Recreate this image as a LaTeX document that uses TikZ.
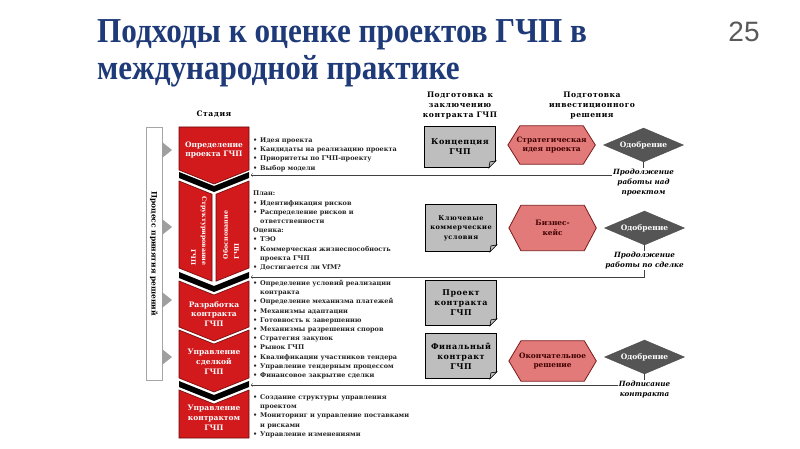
\documentclass[tikz,border=0pt]{standalone}
\usepackage{fontspec}
\setmainfont{DejaVu Serif}
\newfontfamily\spacedfont{DejaVu Serif}[LetterSpace=7]
\newfontfamily\titlefont{Liberation Serif}
\newfontfamily\numfont{Liberation Sans}
\usepackage{tikz}
\usetikzlibrary{shapes.geometric, arrows, positioning, calc, backgrounds}

\definecolor{titleblue}{HTML}{1F3A78}
\definecolor{stagered}{HTML}{D2191C}
\definecolor{stageline}{HTML}{6A0A0A}
\definecolor{docgray}{HTML}{BEBEBE}
\definecolor{hexpink}{HTML}{E27A7A}
\definecolor{hexline}{HTML}{7A1A1A}
\definecolor{diagray}{HTML}{555555}

\newcommand{\itm}{\makebox[7pt][l]{•}}
\newcommand{\cnt}{\hspace*{7pt}}

\tikzstyle{stagefill} = [fill=stagered, draw=stageline, line width=0.6pt]
\tikzstyle{band} = [fill=black]
\tikzstyle{stagetext} = [text=white, font=\bfseries\fontsize{7.5}{9.8}\selectfont, align=center]
\tikzstyle{coltext} = [text=white, font=\bfseries\fontsize{6.3}{11}\selectfont]
\tikzstyle{bullets} = [anchor=north west, align=left, inner sep=0pt, text=black!85, font=\bfseries\fontsize{6.5}{9.2}\selectfont]
\tikzstyle{header} = [align=center, font=\spacedfont\bfseries\fontsize{7.6}{10}\selectfont]
\tikzstyle{document} = [rectangle, minimum width=71pt, minimum height=43pt, draw=black, line width=0.8pt, fill=docgray, align=center, font=\spacedfont\bfseries\fontsize{8}{10}\selectfont]
\tikzstyle{hexa} = [rectangle, minimum width=87pt, minimum height=38pt, inner sep=0pt, text=black!75!red, align=center, font=\bfseries\fontsize{7.4}{9.5}\selectfont]
\tikzstyle{hexfill} = [fill=hexpink, draw=hexline, line width=0.8pt]
\tikzstyle{approve} = [diamond, aspect=2.3, minimum width=80pt, minimum height=34pt, inner sep=0pt, fill=diagray, draw=black!70, text=white, font=\bfseries\fontsize{7.5}{9}\selectfont]
\tikzstyle{note} = [align=center, fill=white, inner sep=1pt, font=\bfseries\itshape\fontsize{7.2}{10}\selectfont]
\tikzstyle{procbar} = [rectangle, draw=gray!70, fill=white, rotate=-90, minimum width=253pt, minimum height=16pt, inner sep=0pt, font=\bfseries\fontsize{7.5}{8}\selectfont]
\tikzstyle{arrow} = [thin, draw=black!75, ->, >=to]
\tikzstyle{tri} = [fill=gray!75]

\begin{document}
\begin{tikzpicture}[x=1pt, y=-1pt, node distance=8pt]
    \useasboundingbox (0,0) rectangle (800,449);
    \begin{scope}[on background layer]
        \fill[white] (0,0) rectangle (800,449);
    \end{scope}

    % Title
    \node (title) [anchor=north west, align=left, inner sep=0pt, xscale=0.89, text=titleblue, font=\titlefont\bfseries\fontsize{35}{37}\selectfont] at (97,19) {Подходы к оценке проектов ГЧП в\\международной практике};
    \node (page) [text=black!65, font=\numfont\fontsize{28}{30}\selectfont] at (744,32) {25};

    % Process bar
    \node (bar) [procbar] at (154,253.5) {Процесс принятия решений};
    \foreach \y in {150,227,300,357}
        \fill[tri] (162,\y-8) -- (172,\y) -- (162,\y+8) -- cycle;

    % Stages
    \node (stagehead) [header] at (214,114) {Стадия};
    \path[stagefill] (179,127) -- (249,127) -- (249,170) -- (214,184) -- (179,170) -- cycle;
    \fill[band] (179,172) -- (214,186) -- (249,172) -- (249,178) -- (214,192) -- (179,178) -- cycle;
    \path[stagefill] (179,181) -- (212,194.2) -- (212,281.2) -- (179,268) -- cycle;
    \path[stagefill] (216,194.2) -- (249,181) -- (249,268) -- (216,281.2) -- cycle;
    \fill[band] (179,272) -- (214,286) -- (249,272) -- (249,278) -- (214,292) -- (179,278) -- cycle;
    \path[stagefill] (179,281) -- (214,295) -- (249,281) -- (249,327) -- (214,341) -- (179,327) -- cycle;
    \path[stagefill] (179,330) -- (214,344) -- (249,330) -- (249,378) -- (214,392) -- (179,378) -- cycle;
    \fill[band] (179,381) -- (214,395) -- (249,381) -- (249,387) -- (214,401) -- (179,387) -- cycle;
    \path[stagefill] (179,390) -- (214,404) -- (249,390) -- (249,438) -- (179,438) -- cycle;

    \node (st1) [stagetext] at (214,150) {Определение\\проекта ГЧП};
    \node (st2a) [coltext, rotate=-90, align=right] at (199,231) {Структурирование\\ГЧП};
    \node (st2b) [coltext, rotate=90, align=left] at (231,235) {Обоснование\\ГЧП};
    \node (st3) [stagetext] at (214,314) {Разработка\\контракта\\ГЧП};
    \node (st4) [stagetext] at (214,362) {Управление\\сделкой\\ГЧП};
    \node (st5) [stagetext] at (214,418) {Управление\\контрактом\\ГЧП};

    % Lists
    \node (list1) [bullets] at (253,137.5) {\itm Идея проекта\\ \itm Кандидаты на реализацию проекта\\ \itm Приоритеты по ГЧП-проекту\\ \itm Выбор модели};
    \node (list2) [bullets] at (253,191) {План:\\ \itm Идентификация рисков\\ \itm Распределение рисков и\\ \cnt ответственности\\ Оценка:\\ \itm ТЭО\\ \itm Коммерческая жизнеспособность\\ \cnt проекта ГЧП\\ \itm Достигается ли VfM?};
    \node (list3) [bullets] at (253,280) {\itm Определение условий реализации\\ \cnt контракта\\ \itm Определение механизма платежей\\ \itm Механизмы адаптации\\ \itm Готовность к завершению\\ \itm Механизмы разрешения споров\\ \itm Стратегия закупок\\ \itm Рынок ГЧП\\ \itm Квалификации участников тендера\\ \itm Управление тендерным процессом\\ \itm Финансовое закрытие сделки};
    \node (list4) [bullets] at (253,394.5) {\itm Создание структуры управления\\ \cnt проектом\\ \itm Мониторинг и управление поставками\\ \cnt и рисками\\ \itm Управление изменениями};

    % Documents, decisions, approvals
    \node (head1) [header] at (460,106) {Подготовка к\\заключению\\контракта ГЧП};
    \node (head2) [header] at (592,106) {Подготовка\\инвестиционного\\решения};
    \node (doc1) [document, minimum height=41pt] at (460,147) {Концепция\\ГЧП};
    \node (doc2) [document, minimum height=47pt, font=\spacedfont\bfseries\fontsize{6.6}{9.5}\selectfont] at (461,228) {Ключевые\\коммерческие\\условия};
    \node (doc3) [document, minimum height=45pt] at (461,303) {Проект\\контракта\\ГЧП};
    \node (doc4) [document, minimum height=45pt] at (461,356) {Финальный\\контракт\\ГЧП};
    \foreach \dn in {doc1,doc2,doc3,doc4} {
        \fill[white] ($(\dn.south east)+(-7.5,1)$) -- ($(\dn.south east)+(1,1)$) -- ($(\dn.south east)+(1,-7.5)$) -- cycle;
        \filldraw[fill=gray!55, draw=black, line width=0.6pt] ($(\dn.south east)+(-7,0)$) -- ($(\dn.south east)+(0,-7)$) -- ($(\dn.south east)+(-6,-6)$) -- cycle;
    }
    \node (hex1) [hexa, right=12pt of doc1, yshift=2pt] {Стратегическая\\идея проекта};
    \node (hex2) [hexa, right=12pt of doc2, minimum height=45pt] {Бизнес-\\кейс};
    \node (hex3) [hexa, right=12pt of doc4, yshift=-5pt, minimum height=40pt] {Окончательное\\решение};
    \begin{scope}[on background layer]
        \foreach \hn in {hex1,hex2,hex3}
            \filldraw[hexfill] (\hn.west) -- ($(\hn.north west)+(12,0)$) -- ($(\hn.north east)+(-12,0)$) -- (\hn.east) -- ($(\hn.south east)+(-12,0)$) -- ($(\hn.south west)+(12,0)$) -- cycle;
    \end{scope}
    \node (dia1) [approve, right=8pt of hex1] {Одобрение};
    \node (dia2) [approve, right=8pt of hex2] {Одобрение};
    \node (dia3) [approve, right=8pt of hex3, yshift=4pt] {Одобрение};

    % Arrows
    \coordinate (in1) at (251,175);
    \coordinate (in2) at (251,277);
    \coordinate (in3) at (251,385);
    \draw [arrow] (dia1.south) |- (in1);
    \draw [arrow] (dia2.south) |- (in2);
    \draw [arrow] (dia3.south) |- (in3);
    \node (note1) [note, below=6pt of dia1] {Продолжение\\работы над\\проектом};
    \node (note2) [note, below=6pt of dia2] {Продолжение\\работы по сделке};
    \node (note3) [note, below=6pt of dia3] {Подписание\\контракта};
\end{tikzpicture}
\end{document}
